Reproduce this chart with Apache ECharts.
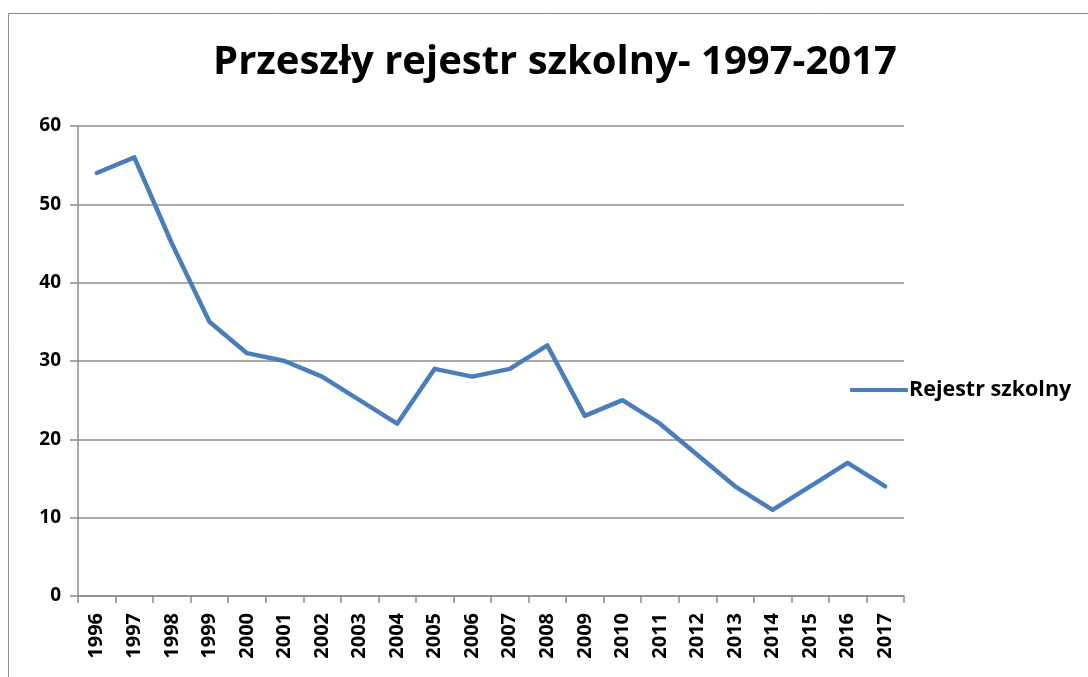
<!DOCTYPE html>
<html>
<head>
<meta charset="utf-8">
<script src="https://cdn.jsdelivr.net/npm/echarts@6/dist/echarts.min.js"></script>
<style>
html,body{margin:0;padding:0;background:#fff;}
#chart{width:1088px;height:677px;}
</style>
</head>
<body>
<div id="chart"></div>
<script>
const titleText = 'Przeszły rejestr szkolny- 1997-2017';
const seriesName = 'Rejestr szkolny';
const years = ['1996','1997','1998','1999','2000','2001','2002','2003','2004','2005','2006','2007','2008','2009','2010','2011','2012','2013','2014','2015','2016','2017'];
const values = [54,56,45,35,31,30,28,25,22,29,28,29,32,23,25,22,18,14,11,14,17,14];
const yTicks = [0,10,20,30,40,50,60];

const font = '"Open Sans", "Liberation Sans", sans-serif';
const chart = echarts.init(document.getElementById('chart'));
chart.setOption({
  backgroundColor: '#ffffff',
  animation: false,
  graphic: [{
    type: 'rect',
    shape: {x: 8.5, y: 13.5, width: 1200, height: 800},
    style: {fill: 'none', stroke: '#8c8c8c', lineWidth: 1}
  }],
  title: {
    text: titleText,
    left: 550, top: 38, textAlign: 'center',
    textStyle: {fontFamily: font, fontWeight: 'bold', fontSize: 40, color: '#000'}
  },
  legend: {
    data: [seriesName],
    orient: 'vertical',
    left: 845, top: 374,
    itemWidth: 58, itemHeight: 4, itemGap: 0,
    icon: 'roundRect',
    textStyle: {fontFamily: font, fontWeight: 'bold', fontSize: 21.5, color: '#000', padding: [0,0,0,-4]}
  },
  grid: {left: 78, right: 184, top: 126, bottom: 81, containLabel: false},
  xAxis: {
    type: 'category',
    data: years,
    boundaryGap: true,
    axisLine: {lineStyle: {color: '#8c8c8c', width: 1.5}},
    axisTick: {show: true, alignWithLabel: false, length: 7, lineStyle: {color: '#8c8c8c', width: 1.5}},
    axisLabel: {rotate: 90, interval: 0, margin: 17, fontFamily: font, fontWeight: 'bold', fontSize: 20, color: '#000'},
    splitLine: {show: false}
  },
  yAxis: {
    type: 'value',
    min: yTicks[0], max: yTicks[yTicks.length-1], interval: 10,
    axisLine: {show: true, lineStyle: {color: '#8c8c8c', width: 1.5}},
    axisTick: {show: true, length: 8, lineStyle: {color: '#8c8c8c', width: 1.5}},
    axisLabel: {margin: 17, fontFamily: font, fontWeight: 'bold', fontSize: 19, color: '#000'},
    splitLine: {show: true, lineStyle: {color: '#8c8c8c', width: 1.5}}
  },
  series: [{
    name: seriesName,
    type: 'line',
    data: values,
    symbol: 'none',
    lineStyle: {color: '#4a7ebb', width: 4.5, cap: 'round', join: 'round'},
    itemStyle: {color: '#4a7ebb'}
  }]
});
</script>
</body>
</html>
